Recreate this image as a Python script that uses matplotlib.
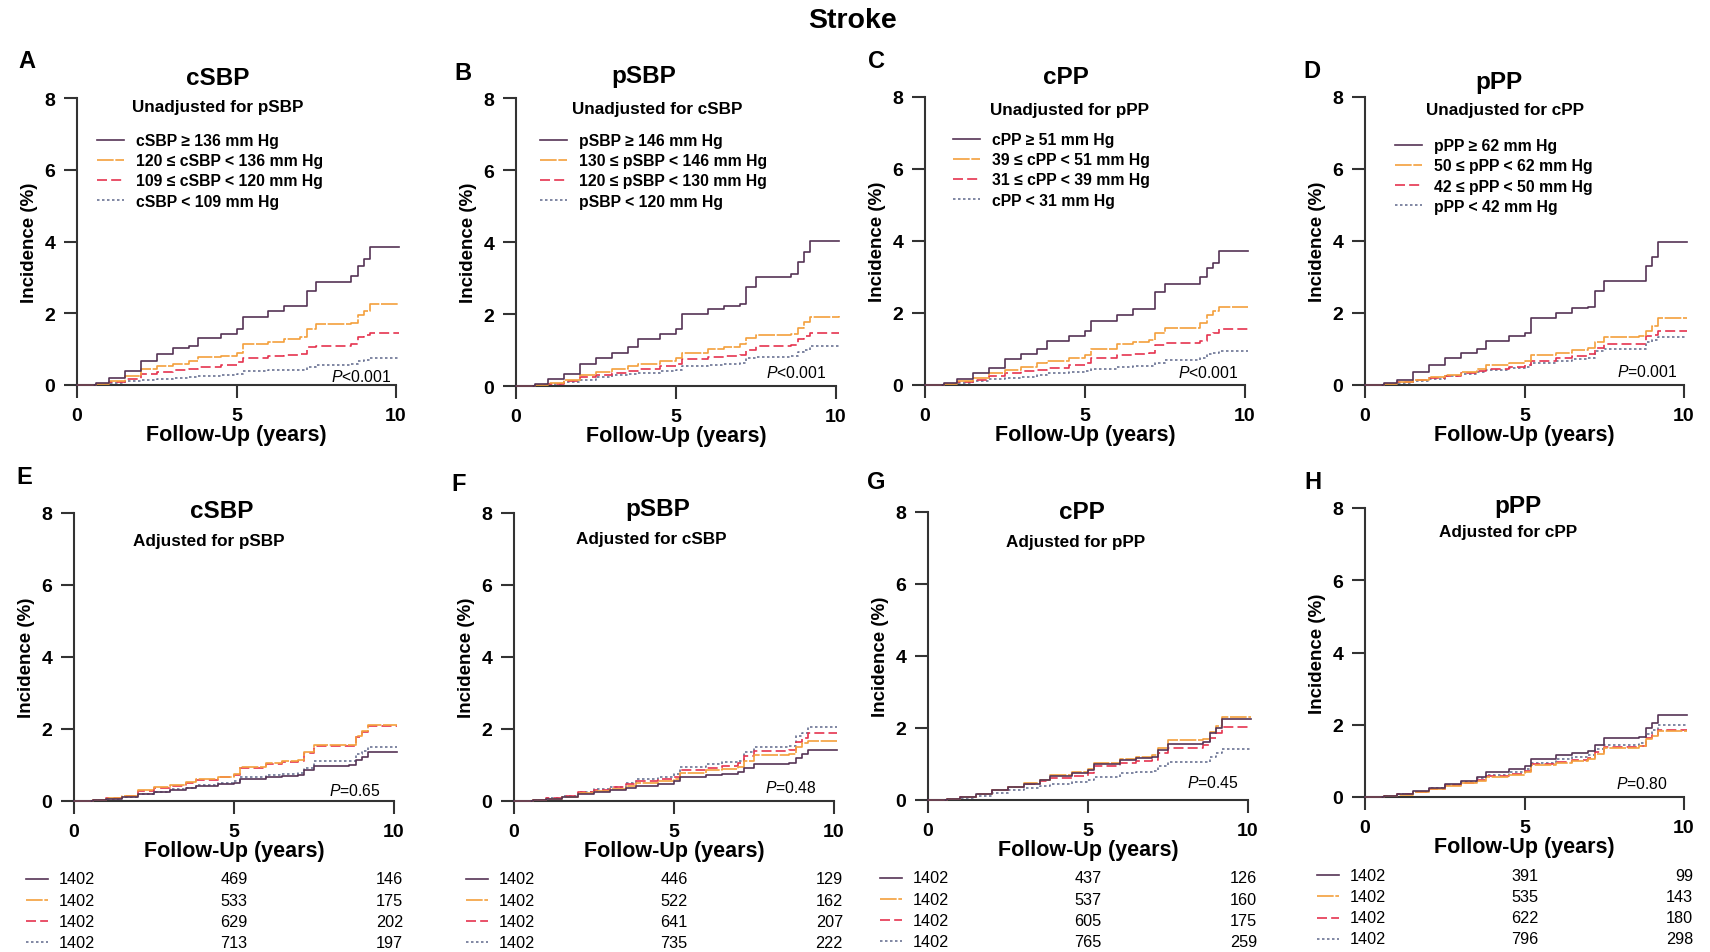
import matplotlib
matplotlib.use("Agg")
import matplotlib.pyplot as plt

plt.rcParams['font.family'] = ['Liberation Sans', 'DejaVu Sans']
plt.rcParams['mathtext.fontset'] = 'custom'
plt.rcParams['mathtext.it'] = 'Liberation Sans:italic'
plt.rcParams['mathtext.rm'] = 'Liberation Sans'

# follow-up time grid (years) at which the step curves change
years = [0, 0.6, 1.0, 1.5, 2.0, 2.5, 3.0, 3.5, 3.8, 4.5, 5.0, 5.2, 6.0, 6.5,
         7.0, 7.2, 7.5, 8.6, 8.8, 9.0, 9.2, 10.1]

# cumulative incidence (%) - unadjusted
a_q4 = [0, 0.05, 0.2, 0.4, 0.68, 0.87, 1.02, 1.08, 1.3, 1.42, 1.56, 1.9, 2.07, 2.2, 2.2, 2.63, 2.88, 3.05, 3.33, 3.52, 3.84, 3.84]
a_q3 = [0, 0.02, 0.1, 0.25, 0.45, 0.52, 0.59, 0.68, 0.77, 0.82, 0.89, 1.14, 1.2, 1.28, 1.33, 1.56, 1.7, 1.72, 1.95, 2.07, 2.25, 2.25]
a_q2 = [0, 0.02, 0.08, 0.18, 0.31, 0.37, 0.42, 0.45, 0.49, 0.55, 0.63, 0.75, 0.8, 0.85, 0.87, 1.05, 1.1, 1.14, 1.33, 1.38, 1.45, 1.45]
a_q1 = [0, 0.01, 0.05, 0.1, 0.15, 0.18, 0.2, 0.22, 0.25, 0.27, 0.3, 0.38, 0.42, 0.42, 0.42, 0.5, 0.55, 0.58, 0.66, 0.7, 0.75, 0.75]

b_q4 = [0, 0.05, 0.2, 0.33, 0.6, 0.77, 0.93, 1.07, 1.3, 1.44, 1.58, 2.0, 2.13, 2.22, 2.27, 2.74, 3.02, 3.1, 3.45, 3.71, 4.04, 4.04]
b_q3 = [0, 0.02, 0.08, 0.18, 0.3, 0.38, 0.46, 0.55, 0.62, 0.7, 0.79, 0.93, 1.02, 1.08, 1.16, 1.32, 1.43, 1.45, 1.62, 1.78, 1.92, 1.95]
b_q2 = [0, 0.02, 0.06, 0.14, 0.24, 0.3, 0.36, 0.42, 0.48, 0.55, 0.62, 0.76, 0.8, 0.83, 0.86, 1.0, 1.1, 1.14, 1.3, 1.38, 1.48, 1.48]
b_q1 = [0, 0.01, 0.05, 0.1, 0.18, 0.24, 0.3, 0.33, 0.37, 0.42, 0.45, 0.56, 0.58, 0.62, 0.65, 0.78, 0.8, 0.82, 0.95, 1.0, 1.1, 1.1]

c_q4 = [0, 0.05, 0.18, 0.33, 0.48, 0.71, 0.85, 1.0, 1.22, 1.36, 1.5, 1.78, 1.95, 2.1, 2.1, 2.57, 2.8, 3.0, 3.25, 3.4, 3.72, 3.72]
c_q3 = [0, 0.02, 0.1, 0.2, 0.32, 0.42, 0.5, 0.6, 0.68, 0.75, 0.82, 1.0, 1.15, 1.2, 1.25, 1.45, 1.58, 1.72, 1.95, 2.05, 2.18, 2.18]
c_q2 = [0, 0.02, 0.08, 0.15, 0.25, 0.32, 0.38, 0.42, 0.48, 0.55, 0.62, 0.75, 0.82, 0.86, 0.9, 1.1, 1.17, 1.22, 1.4, 1.45, 1.55, 1.55]
c_q1 = [0, 0.01, 0.05, 0.1, 0.16, 0.2, 0.23, 0.27, 0.33, 0.35, 0.38, 0.45, 0.5, 0.52, 0.52, 0.62, 0.7, 0.75, 0.85, 0.9, 0.95, 0.95]

d_q4 = [0, 0.05, 0.15, 0.35, 0.55, 0.75, 0.88, 1.0, 1.22, 1.35, 1.45, 1.85, 2.0, 2.15, 2.18, 2.6, 2.88, 2.9, 3.3, 3.55, 3.98, 3.98]
d_q3 = [0, 0.02, 0.08, 0.15, 0.22, 0.28, 0.35, 0.45, 0.55, 0.62, 0.68, 0.82, 0.9, 0.96, 1.02, 1.2, 1.33, 1.35, 1.5, 1.65, 1.85, 1.85]
d_q2 = [0, 0.02, 0.08, 0.14, 0.2, 0.26, 0.32, 0.38, 0.45, 0.5, 0.55, 0.68, 0.75, 0.8, 0.85, 1.02, 1.15, 1.15, 1.35, 1.4, 1.5, 1.5]
d_q1 = [0, 0.02, 0.06, 0.12, 0.18, 0.24, 0.3, 0.36, 0.42, 0.46, 0.5, 0.62, 0.68, 0.72, 0.75, 0.95, 1.0, 1.0, 1.2, 1.25, 1.32, 1.32]

# cumulative incidence (%) - adjusted
e_q4 = [0, 0.02, 0.05, 0.1, 0.2, 0.25, 0.3, 0.35, 0.42, 0.46, 0.5, 0.62, 0.68, 0.7, 0.72, 0.85, 0.98, 1.0, 1.15, 1.22, 1.35, 1.35]
e_q3 = [0, 0.03, 0.08, 0.15, 0.3, 0.38, 0.45, 0.52, 0.6, 0.68, 0.75, 0.95, 1.05, 1.1, 1.15, 1.35, 1.55, 1.55, 1.8, 1.95, 2.1, 2.12]
e_q2 = [0, 0.03, 0.08, 0.15, 0.28, 0.36, 0.43, 0.5, 0.58, 0.66, 0.72, 0.92, 1.02, 1.08, 1.12, 1.32, 1.52, 1.52, 1.78, 1.92, 2.08, 2.08]
e_q1 = [0, 0.02, 0.05, 0.1, 0.2, 0.26, 0.32, 0.37, 0.45, 0.5, 0.55, 0.68, 0.72, 0.75, 0.78, 0.92, 1.1, 1.1, 1.3, 1.4, 1.5, 1.5]

f_q4 = [0, 0.02, 0.05, 0.1, 0.2, 0.25, 0.3, 0.36, 0.42, 0.48, 0.55, 0.68, 0.72, 0.76, 0.8, 0.92, 1.02, 1.05, 1.2, 1.3, 1.42, 1.42]
f_q3 = [0, 0.02, 0.06, 0.12, 0.22, 0.28, 0.33, 0.42, 0.5, 0.56, 0.62, 0.78, 0.85, 0.9, 0.95, 1.12, 1.28, 1.3, 1.5, 1.6, 1.68, 1.68]
f_q2 = [0, 0.02, 0.07, 0.14, 0.24, 0.31, 0.38, 0.46, 0.55, 0.62, 0.68, 0.85, 0.92, 0.98, 1.05, 1.25, 1.4, 1.42, 1.65, 1.75, 1.88, 1.88]
f_q1 = [0, 0.02, 0.07, 0.14, 0.24, 0.32, 0.4, 0.5, 0.6, 0.68, 0.75, 0.95, 1.02, 1.08, 1.12, 1.35, 1.5, 1.52, 1.8, 1.9, 2.05, 2.05]

g_q4 = [0, 0.03, 0.08, 0.16, 0.28, 0.36, 0.45, 0.55, 0.68, 0.75, 0.82, 1.0, 1.12, 1.16, 1.2, 1.4, 1.55, 1.6, 1.85, 2.0, 2.25, 2.25]
g_q3 = [0, 0.03, 0.09, 0.17, 0.29, 0.37, 0.46, 0.56, 0.7, 0.77, 0.85, 1.03, 1.15, 1.2, 1.25, 1.45, 1.68, 1.7, 1.9, 2.05, 2.3, 2.3]
g_q2 = [0, 0.03, 0.08, 0.16, 0.28, 0.36, 0.45, 0.52, 0.6, 0.68, 0.75, 0.95, 1.02, 1.08, 1.12, 1.3, 1.45, 1.52, 1.72, 1.85, 2.02, 2.02]
g_q1 = [0, 0.02, 0.05, 0.12, 0.2, 0.27, 0.33, 0.4, 0.45, 0.5, 0.55, 0.65, 0.75, 0.78, 0.8, 0.95, 1.05, 1.05, 1.2, 1.3, 1.42, 1.42]

h_q4 = [0, 0.03, 0.08, 0.16, 0.25, 0.35, 0.45, 0.55, 0.7, 0.78, 0.85, 1.05, 1.15, 1.22, 1.28, 1.45, 1.62, 1.65, 1.9, 2.05, 2.28, 2.28]
h_q3 = [0, 0.02, 0.06, 0.13, 0.22, 0.3, 0.38, 0.45, 0.55, 0.62, 0.7, 0.88, 0.95, 1.0, 1.05, 1.2, 1.35, 1.4, 1.6, 1.7, 1.82, 1.82]
h_q2 = [0, 0.02, 0.07, 0.14, 0.23, 0.32, 0.4, 0.48, 0.58, 0.65, 0.72, 0.9, 0.98, 1.03, 1.08, 1.25, 1.38, 1.42, 1.62, 1.72, 1.85, 1.85]
h_q1 = [0, 0.03, 0.07, 0.15, 0.24, 0.33, 0.42, 0.52, 0.62, 0.7, 0.78, 0.95, 1.05, 1.1, 1.15, 1.32, 1.45, 1.5, 1.75, 1.85, 1.98, 1.98]

# legend labels (top row)
a_labels = ["cSBP \u2265 136 mm Hg", "120 \u2264 cSBP < 136 mm Hg", "109 \u2264 cSBP < 120 mm Hg", "cSBP < 109 mm Hg"]
b_labels = ["pSBP \u2265 146 mm Hg", "130 \u2264 pSBP < 146 mm Hg", "120 \u2264 pSBP < 130 mm Hg", "pSBP < 120 mm Hg"]
c_labels = ["cPP \u2265 51 mm Hg", "39 \u2264 cPP < 51 mm Hg", "31 \u2264 cPP < 39 mm Hg", "cPP < 31 mm Hg"]
d_labels = ["pPP \u2265 62 mm Hg", "50 \u2264 pPP < 62 mm Hg", "42 \u2264 pPP < 50 mm Hg", "pPP < 42 mm Hg"]

# number at risk (years 0, 5, 10) for bottom row
e_risk = [[1402, 469, 146], [1402, 533, 175], [1402, 629, 202], [1402, 713, 197]]
f_risk = [[1402, 446, 129], [1402, 522, 162], [1402, 641, 207], [1402, 735, 222]]
g_risk = [[1402, 437, 126], [1402, 537, 160], [1402, 605, 175], [1402, 765, 259]]
h_risk = [[1402, 391, 99], [1402, 535, 143], [1402, 622, 180], [1402, 796, 298]]

titles = ["cSBP", "pSBP", "cPP", "pPP", "cSBP", "pSBP", "cPP", "pPP"]
subtitles = ["Unadjusted for pSBP", "Unadjusted for cSBP", "Unadjusted for pPP", "Unadjusted for cPP",
             "Adjusted for pSBP", "Adjusted for cSBP", "Adjusted for pPP", "Adjusted for cPP"]
p_texts = ["<0.001", "<0.001", "<0.001", "=0.001", "=0.65", "=0.48", "=0.45", "=0.80"]
letters = list("ABCDEFGH")

curves = [(a_q4, a_q3, a_q2, a_q1), (b_q4, b_q3, b_q2, b_q1), (c_q4, c_q3, c_q2, c_q1), (d_q4, d_q3, d_q2, d_q1),
          (e_q4, e_q3, e_q2, e_q1), (f_q4, f_q3, f_q2, f_q1), (g_q4, g_q3, g_q2, g_q1), (h_q4, h_q3, h_q2, h_q1)]
legends = [a_labels, b_labels, c_labels, d_labels, None, None, None, None]
risks = [None, None, None, None, e_risk, f_risk, g_risk, h_risk]

colors = ['#553355', '#f4a03c', '#e5334f', '#6b7394']
styles = ['-', (0, (10, 1)), (0, (6, 2.5)), (0, (1.5, 1.5))]

# layout in pixels: left, right(x=10), top(y=8), bottom(y=0)
boxes = [(77, 396, 99, 386), (516, 836, 99, 387), (925, 1245, 98, 386), (1365, 1684, 98, 386),
         (74, 394, 514, 802), (514, 834, 514, 802), (928, 1248, 513, 801), (1365, 1684, 509, 798)]
letter_px = [(27, 62), (463, 73), (876, 62), (1312, 71), (24, 478), (459, 485), (876, 483), (1313, 483)]
title_pos = [(0.44, 1.073), (0.40, 1.077), (0.44, 1.07), (0.42, 1.055),
             (0.46, 1.007), (0.45, 1.014), (0.48, 1.0), (0.48, 1.01)]
sub_pos = [(0.44, 0.969), (0.44, 0.965), (0.45, 0.958), (0.44, 0.955),
           (0.42, 0.906), (0.43, 0.91), (0.46, 0.896), (0.45, 0.917)]
leg_pos = [(0.063, 0.878), (0.075, 0.878), (0.0875, 0.878), (0.094, 0.857)]
p_pos = [(9.85, 0.25), (9.7, 0.39), (9.8, 0.36), (9.8, 0.39), (9.6, 0.3), (9.45, 0.39), (9.7, 0.5), (9.5, 0.39)]
risk_rows = [-0.27, -0.344, -0.417, -0.49]

W, H = 1710, 953
fig = plt.figure(figsize=(W / 100, H / 100), dpi=100)
fig.text(853 / W, 1 - 21 / H, "Stroke", ha='center', va='center', fontsize=20.5, fontweight='bold')

axc = '#333333'
for i in range(8):
    l, r, t, b = boxes[i]
    ax = fig.add_axes([l / W, 1 - b / H, (r - l) / W, (b - t) / H])
    for k in range(4):
        ax.plot(years, curves[i][k], drawstyle='steps-post', color=colors[k], linestyle=styles[k],
                lw=1.2, clip_on=False, label=legends[i][k] if legends[i] else None, zorder=4 - k)
    ax.set_xlim(0, 10)
    ax.set_ylim(0, 8)
    ax.set_xticks([0, 5, 10])
    ax.set_yticks([0, 2, 4, 6, 8])
    ax.spines['top'].set_visible(False)
    ax.spines['right'].set_visible(False)
    for s in ['left', 'bottom']:
        ax.spines[s].set_linewidth(1.5)
        ax.spines[s].set_color(axc)
    ax.tick_params(length=9.5, width=1.5, color=axc, pad=6, labelsize=14)
    for lab in ax.get_xticklabels() + ax.get_yticklabels():
        lab.set_fontweight('bold')
    ax.set_xlabel("Follow-Up (years)", fontsize=15.5, fontweight='bold', labelpad=0)
    ax.set_ylabel("Incidence (%)", fontsize=13.5, fontweight='bold', labelpad=5)
    ax.text(*title_pos[i], titles[i], transform=ax.transAxes, ha='center', va='center',
            fontsize=17.5, fontweight='bold')
    ax.text(*sub_pos[i], subtitles[i], transform=ax.transAxes, ha='center', va='center',
            fontsize=12.3, fontweight='bold')
    ax.text(p_pos[i][0], p_pos[i][1], r"$\mathit{P}$" + p_texts[i], ha='right', va='center', fontsize=11.3)
    fig.text(letter_px[i][0] / W, 1 - letter_px[i][1] / H, letters[i], ha='center', va='center',
             fontsize=17, fontweight='bold')
    if legends[i]:
        ax.legend(loc='upper left', bbox_to_anchor=leg_pos[i], frameon=False,
                  handlelength=1.7, handletextpad=0.8, labelspacing=0.33, borderpad=0, borderaxespad=0,
                  prop={'weight': 'bold', 'size': 11.3})
    if risks[i]:
        tr = ax.get_xaxis_transform()
        for k in range(4):
            yy = risk_rows[k]
            ax.plot([-1.5, -0.8], [yy, yy], transform=tr, color=colors[k], linestyle=styles[k],
                    lw=1.2, clip_on=False)
            ax.text(-0.47, yy, str(risks[i][k][0]), transform=tr, ha='left', va='center', fontsize=11.7)
            ax.text(5, yy, str(risks[i][k][1]), transform=tr, ha='center', va='center', fontsize=11.7)
            ax.text(10.28, yy, str(risks[i][k][2]), transform=tr, ha='right', va='center', fontsize=11.7)

fig.savefig("out.png", dpi=100)
